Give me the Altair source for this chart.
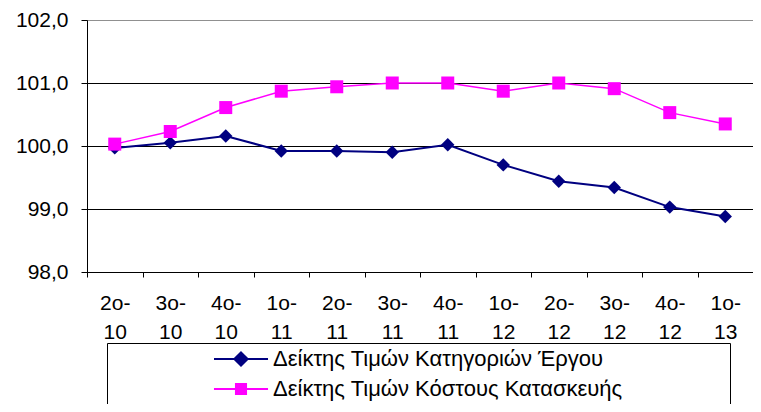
import altair as alt
import pandas as pd

periods = ["2ο-10", "3ο-10", "4ο-10", "1ο-11", "2ο-11", "3ο-11",
           "4ο-11", "1ο-12", "2ο-12", "3ο-12", "4ο-12", "1ο-13"]
series_names = ["Δείκτης Τιμών Κατηγοριών Έργου", "Δείκτης Τιμών Κόστους Κατασκευής"]
works_index = [99.97, 100.05, 100.16, 99.92, 99.92, 99.90,
               100.02, 99.70, 99.44, 99.34, 99.03, 98.88]
cost_index = [100.03, 100.23, 100.61, 100.87, 100.94, 101.00,
              101.00, 100.87, 101.00, 100.91, 100.53, 100.35]
y_ticks = [98, 99, 100, 101, 102]
colors = ["#000080", "#FF00FF"]

rows = []
for p, v in zip(periods, works_index):
    rows.append({"period": p, "series": series_names[0], "value": v})
for p, v in zip(periods, cost_index):
    rows.append({"period": p, "series": series_names[1], "value": v})
df = pd.DataFrame(rows)

FONT = "Liberation Sans"

x_enc = alt.X(
    "period:N",
    sort=periods,
    scale=alt.Scale(type="band", paddingInner=0, paddingOuter=0),
    bandPosition=0.5,
    axis=alt.Axis(
        title=None,
        labelAngle=0,
        tickBand="extent",
        labelExpr="[substring(datum.label, 0, 3), substring(datum.label, 3)]",
        labelFont=FONT,
        labelFontSize=21,
        labelColor="#000000",
        labelPadding=15,
        labelLineHeight=29,
        tickSize=5,
        tickColor="#000000",
        domainColor="#000000",
        grid=False,
        labelFlush=False,
    ),
)
y_enc = alt.Y(
    "value:Q",
    scale=alt.Scale(domain=[98, 102], nice=False, zero=False),
    axis=alt.Axis(
        title=None,
        values=y_ticks,
        labelExpr="replace(format(datum.value, '.1f'), '.', ',')",
        labelFont=FONT,
        labelFontSize=21,
        labelColor="#000000",
        labelPadding=13,
        tickSize=6,
        tickColor="#000000",
        domainColor="#000000",
        grid=True,
        gridColor={"condition": {"test": "datum.value >= 102", "value": "#909090"}, "value": "#000000"},
        gridWidth=1,
        labelFlush=False,
    ),
)

base = alt.Chart(df)
s0 = alt.datum.series == series_names[0]
s1 = alt.datum.series == series_names[1]

blue_line = base.transform_filter(s0).mark_line(color=colors[0], strokeWidth=2).encode(x=x_enc, y=y_enc)
blue_pts = base.transform_filter(s0).mark_point(
    shape="diamond", filled=True, size=180, color=colors[0], opacity=1
).encode(x=x_enc, y=y_enc)
pink_line = base.transform_filter(s1).mark_line(color=colors[1], strokeWidth=1.5).encode(x=x_enc, y=y_enc)
pink_pts = base.transform_filter(s1).mark_point(
    shape="square", filled=True, size=169, color=colors[1], opacity=1
).encode(x=x_enc, y=y_enc)

diamond_path = "M-3.86,0H3.86M0,-0.95L0.95,0L0,0.95L-0.95,0Z"
square_path = "M-3.86,0H3.86M-0.72,-0.72H0.72V0.72H-0.72Z"

pad = "\u00a0" * 14 + "\u2800"
leg = alt.Legend(
    title=None,
    orient="none",
    legendX=20,
    legendY=323,
    direction="vertical",
    padding=5,
    rowPadding=8,
    symbolOffset=118,
    labelOffset=21,
    labelFont=FONT,
    labelFontSize=22,
    labelColor="#000000",
    labelLimit=1000,
    labelExpr="datum.label + '" + pad + "'",
    strokeColor="#000000",
    fillColor="#FFFFFF",
    symbolStrokeWidth=2,
    symbolSize=196,
)

legend_layer = base.transform_filter("false").mark_point(
    filled=True, opacity=1, size=196, strokeWidth=2
).encode(
    fill=alt.Fill("series:N", scale=alt.Scale(domain=series_names, range=colors), legend=leg),
    stroke=alt.Stroke("series:N", scale=alt.Scale(domain=series_names, range=colors), legend=leg),
    shape=alt.Shape("series:N", scale=alt.Scale(domain=series_names, range=[diamond_path, square_path]), legend=leg),
)

chart = alt.layer(blue_line, blue_pts, pink_line, pink_pts, legend_layer).properties(
    width=666,
    height=252,
    padding={"left": 79, "top": 12, "right": 0, "bottom": 132},
    autosize=alt.AutoSizeParams(type="none"),
    background="#FFFFFF",
).configure_view(
    fill="#C0C0C0", stroke="#808080", strokeWidth=1
).configure_legend(strokeWidth=1)

chart.save("out.html", embed_options={"renderer": "svg", "actions": False})
